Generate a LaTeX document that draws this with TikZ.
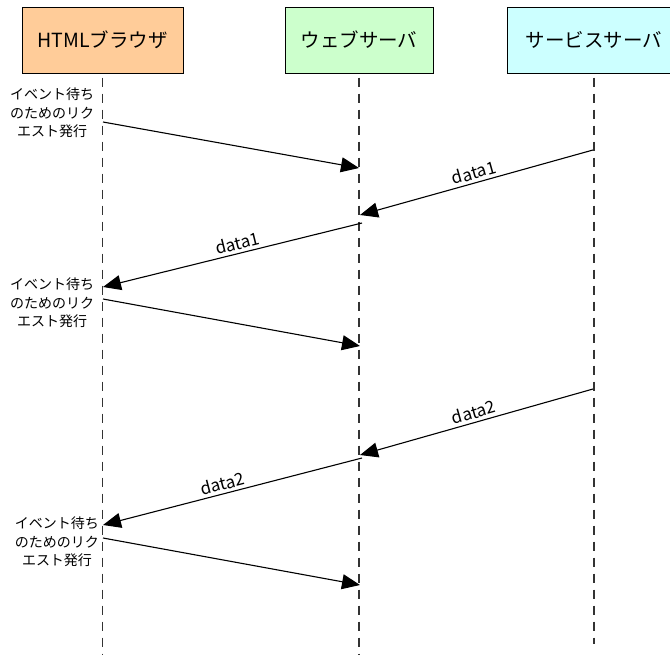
\documentclass[tikz,border=0pt]{standalone}
\usepackage{fontspec}
\setmainfont{Noto Sans CJK JP}
\usetikzlibrary{arrows.meta}
\definecolor{browserfill}{RGB}{255,204,153}
\definecolor{webfill}{RGB}{204,255,204}
\definecolor{svcfill}{RGB}{204,255,255}
\begin{document}
\begin{tikzpicture}[x=1pt,y=-1pt,
  actor/.style={draw=black, line width=1pt, minimum height=66pt, inner sep=0pt,
    font=\fontsize{19.5}{23}\selectfont},
  lifeline/.style={draw=black!80, line width=1.1pt, dash pattern=on 9pt off 7pt, dash phase=-4pt},
  msg/.style={draw=black, line width=1.1pt, -{Triangle[length=18pt,width=15pt]}},
  note/.style={align=center, inner sep=0pt, font=\fontsize{14}{18.5}\selectfont},
  datalbl/.style={sloped, above, inner sep=3pt, font=\fontsize{17}{20}\selectfont}]
  \clip (0,0) rectangle (670,654);
  \useasboundingbox (0,0) rectangle (670,654);

  % participants
  \node[actor, fill=browserfill, minimum width=161pt] (browser) at (102.5,40) {HTMLブラウザ};
  \node[actor, fill=webfill, minimum width=148pt] (web) at (359,40) {ウェブサーバ};
  \node[actor, fill=svcfill, minimum width=174pt] (svc) at (594,40) {サービスサーバ};

  % lifeline ends
  \coordinate (browserEnd) at (102.5,654);
  \coordinate (webEnd) at (359,654);
  \coordinate (svcEnd) at (594,644);
  \draw[lifeline] (browser.south) -- (browserEnd);
  \draw[lifeline] (web.south) -- (webEnd);
  \draw[lifeline] (svc.south) -- (svcEnd);

  % message end points on the lifelines
  \coordinate (r1s) at (103,122);  \coordinate (r1e) at (359,168);
  \coordinate (d1s) at (593,150);  \coordinate (d1e) at (360,215);
  \coordinate (d1bs) at (362,223); \coordinate (d1be) at (103,287);
  \coordinate (r2s) at (103,299);  \coordinate (r2e) at (360,346);
  \coordinate (d2s) at (593,389);  \coordinate (d2e) at (360,455);
  \coordinate (d2bs) at (362,458); \coordinate (d2be) at (103,525);
  \coordinate (r3s) at (103,538);  \coordinate (r3e) at (360,585);

  % messages
  \draw[msg] (r1s) -- (r1e);
  \draw[msg] (d1s) -- node[datalbl, pos=0.5] {data1} (d1e);
  \draw[msg] (d1bs) -- node[datalbl, pos=0.47] {data1} (d1be);
  \draw[msg] (r2s) -- (r2e);
  \draw[msg] (d2s) -- node[datalbl, pos=0.5] {data2} (d2e);
  \draw[msg] (d2bs) -- node[datalbl, pos=0.53] {data2} (d2be);
  \draw[msg] (r3s) -- (r3e);

  % annotations
  \node[note] (n1) at (52,113) {イベント待ち\\のためのリク\\エスト発行};
  \node[note] (n2) at (52,303) {イベント待ち\\のためのリク\\エスト発行};
  \node[note] (n3) at (57,542) {イベント待ち\\のためのリク\\エスト発行};
\end{tikzpicture}
\end{document}
